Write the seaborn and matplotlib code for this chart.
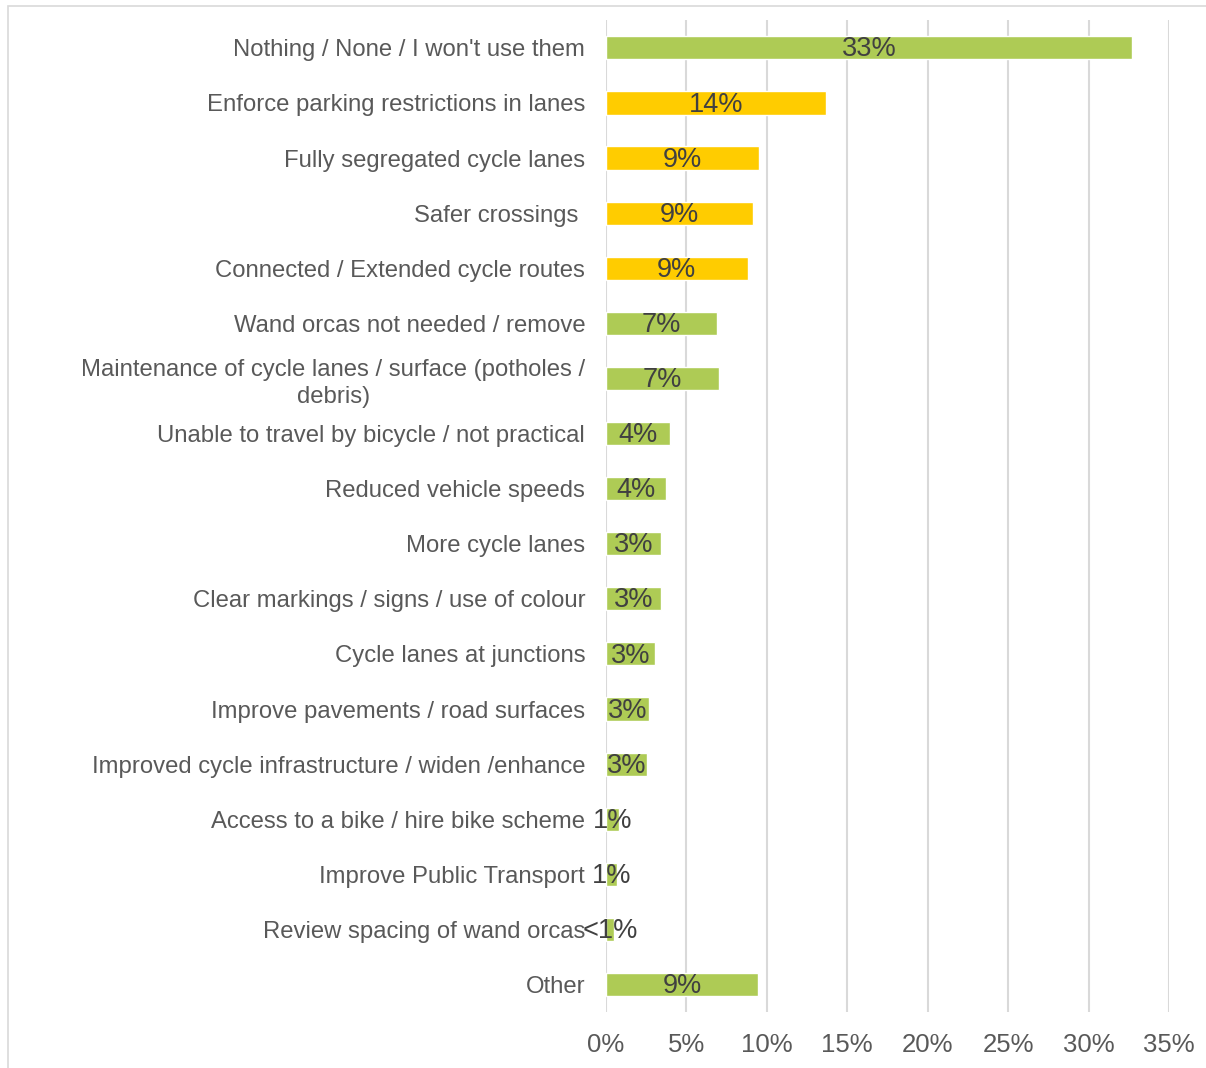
import matplotlib
matplotlib.use("Agg")
import matplotlib.pyplot as plt
import seaborn as sns
import pandas as pd
from matplotlib.patches import Rectangle

# survey answers, share of respondents (%)
categories = [
    "Nothing / None / I won't use them",
    "Enforce parking restrictions in lanes",
    "Fully segregated cycle lanes",
    "Safer crossings ",
    "Connected / Extended cycle routes",
    "Wand orcas not needed / remove",
    "Maintenance of cycle lanes / surface (potholes /\ndebris)",
    "Unable to travel by bicycle / not practical",
    "Reduced vehicle speeds",
    "More cycle lanes",
    "Clear markings / signs / use of colour",
    "Cycle lanes at junctions",
    "Improve pavements / road surfaces",
    "Improved cycle infrastructure / widen /enhance",
    "Access to a bike / hire bike scheme",
    "Improve Public Transport",
    "Review spacing of wand orcas",
    "Other",
]
values = [32.7, 13.7, 9.5, 9.15, 8.8, 6.9, 7.0, 4.0, 3.7, 3.4, 3.4, 3.05, 2.7, 2.55, 0.8, 0.7, 0.5, 9.45]
labels = ["33%", "14%", "9%", "9%", "9%", "7%", "7%", "4%", "4%", "3%", "3%", "3%", "3%", "3%", "1%", "1%", "<1%", "9%"]
highlight = [False, True, True, True, True] + [False] * 13

green = "#AECB55"
yellow = "#FFCC00"

df = pd.DataFrame({"cat": categories, "val": values})
palette = {c: (yellow if h else green) for c, h in zip(categories, highlight)}

sns.set_style("white")
plt.rcParams["font.family"] = ["Liberation Sans", "DejaVu Sans"]

fig = plt.figure(figsize=(12.06, 10.68), dpi=100)
ax = fig.add_axes([0.5025, 0.0524, 0.9693 - 0.5025, 0.981 - 0.0524])

sns.barplot(data=df, x="val", y="cat", hue="cat", palette=palette, legend=False,
            width=0.42, saturation=1, ax=ax, orient="h")

for i, (v, lab) in enumerate(zip(values, labels)):
    ax.text(v / 2, i + 0.03, lab, ha="center", va="center", fontsize=19.5, color="#404040")

ax.set_xlim(0, 35)
ax.set_ylim(17.5, -0.5)
ax.set_xticks(range(0, 36, 5))
ax.set_xticklabels([f"{t}%" for t in range(0, 36, 5)])
ax.grid(axis="x", color="#D9D9D9", linewidth=1.5)
ax.grid(axis="y", visible=False)
ax.set_axisbelow(True)
for s in ax.spines.values():
    s.set_visible(False)
ax.tick_params(axis="y", length=0, labelsize=17.2, labelcolor="#595959", pad=15)
ax.tick_params(axis="x", length=0, labelsize=18.5, labelcolor="#595959", pad=15)
for t in ax.get_yticklabels():
    t.set_multialignment("center")
    t.set_linespacing(1.3)
ax.set_xlabel("")
ax.set_ylabel("")

# chart area border
fig.patches.append(Rectangle((8 / 1206, -0.01), 1.02, 1 - 6 / 1068 + 0.01,
                             transform=fig.transFigure, fill=False,
                             edgecolor="#D9D9D9", linewidth=1.2))

fig.savefig("out.png", dpi=100)
